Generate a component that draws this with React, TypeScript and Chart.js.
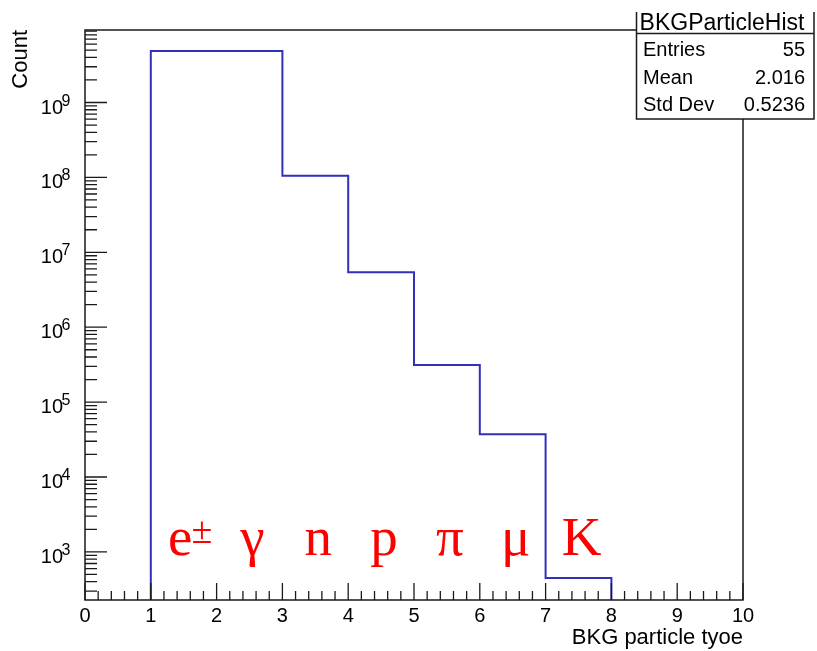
import React, { useEffect, useRef } from 'react';
import { Chart, registerables } from 'chart.js';

Chart.register(...registerables);

// ---- data ----
const binEdges = [1, 2, 3, 4, 5, 6, 7, 8];
const binCounts = [4.87e9, 4.87e9, 1.05e8, 5.41e6, 3.13e5, 3.71e4, 449];
const particleLabels = ['e±', 'γ', 'n', 'p', 'π', 'μ', 'K'];
const particleLabelY = 900; // data value where the red labels sit (baseline)
const xMajorTicks = [0, 1, 2, 3, 4, 5, 6, 7, 8, 9, 10];
const yDecadeExponents = [3, 4, 5, 6, 7, 8, 9];
const statsTitle = 'BKGParticleHist';
const statsNames = ['Entries', 'Mean', 'Std Dev'];
const statsValues = ['55', '2.016', '0.5236'];
const xAxisTitle = 'BKG particle tyoe';
const yAxisTitle = 'Count';

const X_MIN = 0;
const X_MAX = 10;
const Y_MIN = 228;
const Y_MAX = 9.29e9;

const SANS = '"Liberation Sans", Arial, Helvetica, sans-serif';
const SERIF = '"Liberation Serif", "Times New Roman", serif';

function buildPoints() {
  const pts: { x: number; y: number }[] = [];
  pts.push({ x: binEdges[0], y: Y_MIN });
  for (let i = 0; i < binCounts.length; i++) {
    pts.push({ x: binEdges[i], y: binCounts[i] });
    pts.push({ x: binEdges[i + 1], y: binCounts[i] });
  }
  pts.push({ x: binEdges[binEdges.length - 1], y: Y_MIN });
  return pts;
}

const rootStylePlugin = {
  id: 'rootStyle',
  afterDatasetsDraw(chart: any) {
    const ctx: CanvasRenderingContext2D = chart.ctx;
    const xs = chart.scales.x;
    const ys = chart.scales.y;
    const a = chart.chartArea;
    ctx.save();

    // frame
    ctx.strokeStyle = '#1a1a1a';
    ctx.lineWidth = 1.5;
    ctx.strokeRect(a.left, a.top, a.right - a.left, a.bottom - a.top);

    // x ticks (inside, upward)
    ctx.lineWidth = 1.3;
    ctx.beginPath();
    for (let v = X_MIN; v <= X_MAX + 1e-9; v += 0.2) {
      const r = Math.round(v * 5) / 5;
      const px = xs.getPixelForValue(r);
      const major = Math.abs(r - Math.round(r)) < 1e-6;
      ctx.moveTo(px, a.bottom);
      ctx.lineTo(px, a.bottom - (major ? 17 : 9));
    }
    // y ticks (inside, rightward)
    for (let d = 2; d <= 9; d++) {
      for (let m = 1; m <= 9; m++) {
        const val = m * Math.pow(10, d);
        if (val < Y_MIN || val > Y_MAX) continue;
        const py = ys.getPixelForValue(val);
        ctx.moveTo(a.left, py);
        ctx.lineTo(a.left + (m === 1 ? 22 : 12), py);
      }
    }
    ctx.stroke();

    // x tick labels
    ctx.fillStyle = '#000';
    ctx.font = `20px ${SANS}`;
    ctx.textAlign = 'center';
    ctx.textBaseline = 'alphabetic';
    xMajorTicks.forEach((v) => {
      ctx.fillText(String(v), xs.getPixelForValue(v), 622);
    });

    // y tick labels 10^n
    yDecadeExponents.forEach((e) => {
      const py = ys.getPixelForValue(Math.pow(10, e));
      ctx.font = `20px ${SANS}`;
      ctx.textAlign = 'right';
      ctx.fillText('10', 63, py + 11);
      ctx.font = `16px ${SANS}`;
      ctx.textAlign = 'left';
      ctx.fillText(String(e), 61.5, py + 3);
    });

    // axis titles
    ctx.font = `22px ${SANS}`;
    ctx.textAlign = 'right';
    ctx.fillText(xAxisTitle, a.right, 644);
    ctx.save();
    ctx.translate(27, a.top);
    ctx.rotate(-Math.PI / 2);
    ctx.textAlign = 'right';
    ctx.fillText(yAxisTitle, 0, 0);
    ctx.restore();

    // red particle labels
    ctx.fillStyle = '#ff0000';
    const by = ys.getPixelForValue(particleLabelY);
    particleLabels.forEach((lab, i) => {
      const cx = xs.getPixelForValue((binEdges[i] + binEdges[i + 1]) / 2) + 3;
      if (lab.length === 2 && lab[1] === '±') {
        ctx.font = `55px ${SERIF}`;
        const w1 = ctx.measureText(lab[0]).width;
        ctx.font = `38px ${SERIF}`;
        const w2 = ctx.measureText(lab[1]).width;
        const start = cx + 4 - (w1 + w2) / 2;
        ctx.textAlign = 'left';
        ctx.font = `55px ${SERIF}`;
        ctx.fillText(lab[0], start, by);
        ctx.font = `38px ${SERIF}`;
        ctx.fillText(lab[1], start + w1 - 1, by - 12);
      } else {
        ctx.font = `55px ${SERIF}`;
        ctx.textAlign = 'center';
        ctx.fillText(lab, cx, by);
      }
    });

    // stats box
    const bl = 636.5, br = 814, bt = 12, bb = 119;
    ctx.fillStyle = '#fff';
    ctx.fillRect(bl, bt, br - bl, bb - bt);
    ctx.strokeStyle = '#1a1a1a';
    ctx.lineWidth = 1.5;
    ctx.beginPath();
    ctx.moveTo(bl, bt);
    ctx.lineTo(bl, bb);
    ctx.lineTo(br, bb);
    ctx.lineTo(br, bt);
    ctx.moveTo(bl, 33.5);
    ctx.lineTo(br, 33.5);
    ctx.stroke();
    ctx.fillStyle = '#000';
    ctx.font = `23px ${SANS}`;
    ctx.textAlign = 'center';
    ctx.fillText(statsTitle, 722, 30);
    ctx.font = `20px ${SANS}`;
    const rowBase = [56, 84, 111];
    statsNames.forEach((nm, i) => {
      ctx.textAlign = 'left';
      ctx.fillText(nm, 643, rowBase[i]);
      ctx.textAlign = 'right';
      ctx.fillText(statsValues[i], 805, rowBase[i]);
    });

    ctx.restore();
  },
};

export default function App() {
  const ref = useRef<HTMLCanvasElement | null>(null);
  useEffect(() => {
    document.body.style.margin = '0';
    const canvas = ref.current;
    if (!canvas) return;
    const chart = new Chart(canvas, {
      type: 'line',
      data: {
        datasets: [
          {
            data: buildPoints(),
            borderColor: '#3030bb',
            borderWidth: 2,
            pointRadius: 0,
            fill: false,
            tension: 0,
          },
        ],
      },
      options: {
        responsive: false,
        animation: false,
        devicePixelRatio: 1,
        layout: { padding: { left: 85, top: 30, right: 74, bottom: 51 } },
        plugins: { legend: { display: false }, tooltip: { enabled: false } },
        scales: {
          x: { type: 'linear', min: X_MIN, max: X_MAX, display: false },
          y: { type: 'logarithmic', min: Y_MIN, max: Y_MAX, display: false },
        },
      },
      plugins: [rootStylePlugin],
    });
    return () => chart.destroy();
  }, []);
  return <canvas ref={ref} width={817} height={651} style={{ display: 'block' }} />;
}
